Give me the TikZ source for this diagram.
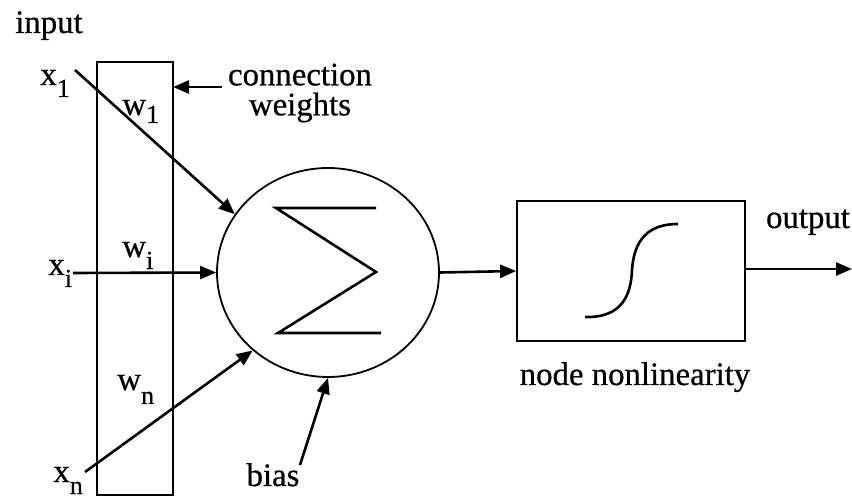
\documentclass[tikz,border=0pt]{standalone}
\usepackage{fontspec}
\setmainfont{Liberation Serif}[FakeBold=0.6]
\usetikzlibrary{arrows.meta,shapes.geometric}

% label with a lowered subscript in upright type
\newcommand\sublbl[3][6pt]{#2\raisebox{-#1}{\fontsize{13}{13}\selectfont #3}}

\tikzset{
  txt/.style={inner sep=0pt, font=\fontsize{16.4}{16}\selectfont},
  box/.style={draw, line width=0.9pt, inner sep=0pt},
  conn/.style={line width=1.3pt, -{Triangle[length=8pt,width=6.5pt]}},
}

\begin{document}
\begin{tikzpicture}[x=0.5pt, y=-0.5pt]
  \useasboundingbox (0,0) rectangle (852,497);

  % weight column and summing junction
  \node[box, minimum width=38pt, minimum height=216.5pt] (wbox) at (135,278.5) {};
  \node[box, ellipse, minimum width=111pt, minimum height=104.5pt] (sum) at (328,272.5) {};
  \node[box, minimum width=114pt, minimum height=70pt] (nl) at (631,271) {};

  % sigma symbol inside the junction
  \draw[line width=1.3pt] (376,208) -- (276,208) -- (376,272) -- (278,333) -- (381,333);

  % sigmoid inside the nonlinearity block
  \draw[line width=1.3pt] (585,317) .. controls (622,318) and (631,295) .. (632,270)
        .. controls (634,240) and (648,224) .. (678,224);

  % texts
  \node[txt, anchor=base] (inp) at (49,33) {input};
  \node[txt, anchor=base west] (x1) at (40,85) {\sublbl{x}{1}};
  \node[txt, anchor=base west] (xi) at (48,275) {\sublbl{x}{i}};
  \node[txt, anchor=base west] (xn) at (53,482) {\sublbl{x}{n}};
  \node[txt, anchor=base west] (w1) at (122,115) {\sublbl[4pt]{w}{1}};
  \node[txt, anchor=base west] (wi) at (122,257) {\sublbl{w}{i}};
  \node[txt, anchor=base west] (wn) at (117,390) {\sublbl[7pt]{w}{n}};
  \node[txt, align=center] (cw) at (300,93) {connection\\[-1pt]weights};
  \node[txt, anchor=base] (bias) at (273,486) {bias};
  \node[txt, anchor=base] (nlt) at (635,385) {node nonlinearity};
  \node[txt, anchor=base] (outt) at (808,228) {output};

  % free ends of connectors
  \coordinate (s1) at (75,70);
  \coordinate (si) at (73,273);
  \coordinate (sn) at (85,472);
  \coordinate (cws) at (222,87);
  \coordinate (cwe) at (173,87);
  \coordinate (bs) at (300,465);
  \coordinate (oute) at (852,269);

  % connectors
  \draw[conn] (s1) -- (sum.148);
  \draw[conn] (si) -- (sum.west);
  \draw[conn] (sn) -- (sum.226);
  \draw[conn] (bs) -- (sum.south);
  \draw[conn] (cws) -- (cwe);
  \draw[conn] (sum.east) -- (nl.west);
  \draw[conn] (nl.east |- oute) -- (oute);
\end{tikzpicture}
\end{document}
